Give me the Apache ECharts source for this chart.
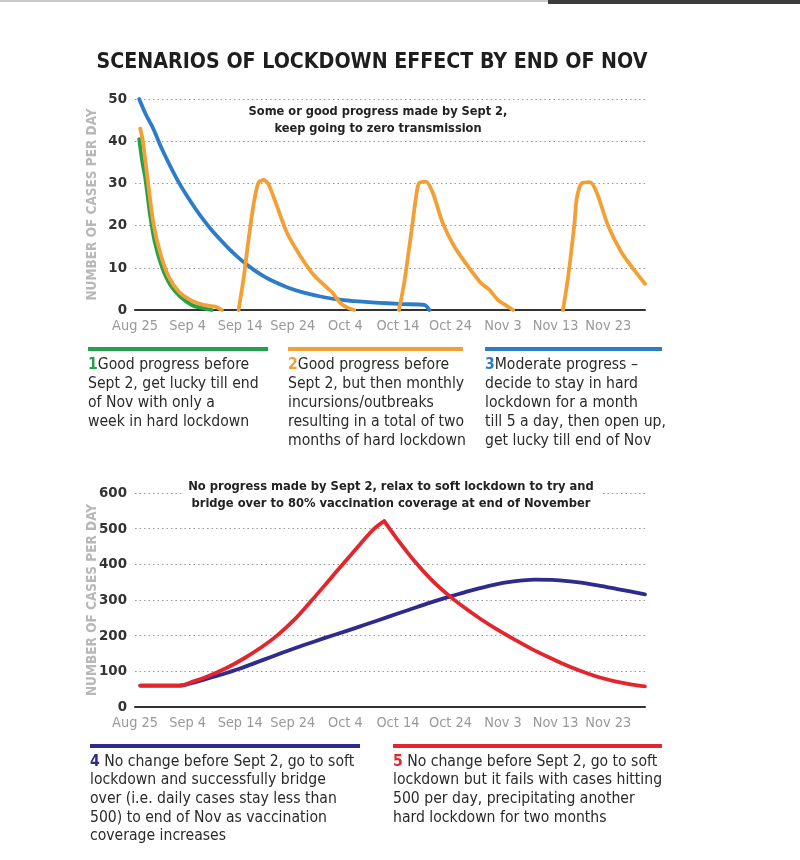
<!DOCTYPE html>
<html><head><meta charset="utf-8">
<script src="https://cdn.jsdelivr.net/npm/echarts@6/dist/echarts.min.js"></script>
<style>html,body{margin:0;padding:0;background:#fff}#c{width:800px;height:860px}</style>
</head><body><div id="c"></div>
<script>
// ---------- data ----------
const titleText = 'SCENARIOS OF LOCKDOWN EFFECT BY END OF NOV';
const xTickLabels = ['Aug 25','Sep 4','Sep 14','Sep 24','Oct 4','Oct 14','Oct 24','Nov 3','Nov 13','Nov 23'];
const topSubtitle = ['Some or good progress made by Sept 2,', 'keep going to zero transmission'];
const bottomSubtitle = ['No progress made by Sept 2, relax to soft lockdown to try and', 'bridge over to 80% vaccination coverage at end of November'];
const yAxisName = 'NUMBER OF CASES PER DAY';

// [day since Aug 25, cases per day]
const scenario1 = [[0.8,40.5],[1.4,35],[1.9,31.7],[2.4,27],[2.9,22.2],[3.8,15.9],[5.1,10.3],[6.7,6],[8.6,3.2],[10.8,1.2],[13,0.4],[14.6,0]];
const scenario2 = [[1,43],[1.5,40],[2.5,30],[3.5,20.6],[4.8,13.5],[6.4,7.9],[8.3,4.4],[10.5,2.4],[13,1.2],[15.3,0.8],[16.5,0],[18,'-'],
  [19.7,0],[20.7,7.9],[21.6,16.7],[22.6,25.4],[23.5,30.2],[24.5,30.8],[25.4,29.8],[27,24.6],[28.9,18.3],[31.5,12.7],[34,8.3],[36.6,5.2],[37.5,4.2],[38.2,3],[39.1,1.6],[40.5,0.5],[41.7,0],[45,'-'],
  [50.2,0],[51.2,6.4],[52.8,20.7],[53.4,26.3],[54,30],[55.3,30.4],[56.6,27.9],[58.5,20.7],[60.7,15.1],[63.3,10.4],[65.8,6.4],[67.4,4.8],[69,2.4],[70.9,0.8],[71.9,0],[75,'-'],
  [81.4,0],[82.4,8],[83.6,20.7],[84,26.3],[84.9,30],[86.5,30.3],[87.8,27.9],[90,19.9],[92.6,13.5],[95.1,9.2],[97,6.2]];
const scenario3 = [[0.8,50],[2,46.5],[3.5,42.9],[5,38.5],[6.7,34.1],[8.3,30.3],[9.9,27],[11.5,24],[13,21.4],[14.6,18.9],[16.2,16.7],[17.8,14.6],[19.4,12.7],[21,11],[22.6,9.5],[24.2,8.2],[25.8,7.1],[28.9,5.4],[32.1,4.1],[35.3,3.2],[38.5,2.5],[41.7,2.1],[45,1.8],[48,1.6],[51,1.4],[55,1.2],[56,0]];
const scenario4 = [[1,60],[8.5,60],[10.5,66],[13,76],[16,89],[20,108],[24,130],[28,152],[32,173],[36,193],[40,212],[44,232],[48,252],[52,272],[56,292],[60,310],[64,327],[68,342],[72,352],[76,357],[80,356],[84,350],[88,341],[92,330],[97,316]];
const scenario5 = [[1,60],[8.5,60],[11,71],[14,87],[17.5,110],[20.7,136],[23.9,166],[27,200],[30.5,248],[33.5,297],[36.6,350],[39.8,405],[42.9,458],[45.5,500],[47.4,521],[49.9,470],[53.1,410],[56.3,358],[59.5,315],[62.7,278],[65.8,246],[69,216],[72.2,189],[75.4,163],[78.6,140],[81.7,119],[84.9,100],[88.1,84],[91.3,72],[94.5,63],[97,58]];

const legendNumbers = ['1','2','3','4','5'];
const legendTexts = [
  ['Good progress before','Sept 2, get lucky till end','of Nov with only a','week in hard lockdown'],
  ['Good progress before','Sept 2, but then monthly','incursions/outbreaks','resulting in a total of two','months of hard lockdown'],
  ['Moderate progress \u2013','decide to stay in hard','lockdown for a month','till 5 a day, then open up,','get lucky till end of Nov'],
  ['No change before Sept 2, go to soft','lockdown and successfully bridge','over (i.e. daily cases stay less than','500) to end of Nov as vaccination','coverage increases'],
  ['No change before Sept 2, go to soft','lockdown but it fails with cases hitting','500 per day, precipitating another','hard lockdown for two months']
];

// ---------- styling ----------
const COLORS = ['#27a04a','#f2a035','#2d7cc7','#2f2b8e','#e3262d'];
const cv = document.createElement('canvas').getContext('2d');
function tw(font, s){ cv.font = font; return cv.measureText(s).width; }
function has(f){ const s='mmmmmmmmmlliWWWQQ0123'; return ['monospace','serif'].some(b => Math.abs(tw('72px '+b, s) - tw('72px "'+f+'", '+b, s)) > 0.5); }
const condList = ['Liberation Sans Narrow','DejaVu Sans Condensed','Roboto Condensed','Noto Sans Condensed','Open Sans Condensed','Liberation Sans'];
const COND = condList.find(has) || 'Roboto';
const FAM = '"' + COND + '", "Liberation Sans", Roboto, sans-serif';
function fit(weight, s, target, cap){ const v = 100*target/tw(weight+' 100px '+FAM, s); return Math.min(cap||99, Math.round(v*10)/10); }

const titleSize = fit('bold', titleText, 551, 32);
const topSubSize = fit('bold', topSubtitle[0], 260, 16);
const botSubSize = fit('bold', bottomSubtitle[0], 405, 16);
const legendSize = fit('normal', legendTexts[4][1], 269, 17);
const xLabSize = fit('normal', 'Aug 25', 46, 16);
const yLabSize = fit('bold', '600', 28, 17);
const nameSize = Math.min(13.5, fit('bold', yAxisName, 196, 14));

const XMAX = 97;
function xAxisCfg(i){
  return {type:'value', gridIndex:i, min:0, max:XMAX, interval:10,
    axisLine:{show:true, onZero:false, lineStyle:{color:'#333', width:2}},
    axisTick:{show:false}, splitLine:{show:false},
    axisLabel:{formatter: v => (v % 10 === 0 && xTickLabels[v/10]) || '', color:'#999', fontSize:xLabSize, fontFamily:FAM, margin:9, showMaxLabel:false}};
}
function yAxisCfg(i, max, step){
  return {type:'value', gridIndex:i, min:0, max:max, interval:step,
    axisLine:{show:false}, axisTick:{show:false},
    splitLine:{show:true, lineStyle:{type:[1.5,3], color:'#999', width:1}},
    axisLabel:{color:'#333', fontWeight:'bold', fontSize:yLabSize, fontFamily:FAM, margin:8},
    name:yAxisName, nameLocation:'middle', nameRotate:90, nameGap:36, nameMoveOverlap:false,
    nameTextStyle:{color:'#b8b8b8', fontWeight:'bold', fontSize:nameSize, fontFamily:FAM}};
}
function lineSeries(data, ci, xi, smooth){
  return {type:'line', xAxisIndex:xi, yAxisIndex:xi, data:data, symbol:'none', smooth:smooth, connectNulls:false,
    lineStyle:{color:COLORS[ci], width:3.8, cap:'round', join:'round'}, itemStyle:{color:COLORS[ci]}, z:3, clip:true};
}
// red line has a sharp peak: draw its rise and fall as two smoothed pieces
let peakIdx = 0;
scenario5.forEach((p, i) => { if (p[1] > scenario5[peakIdx][1]) peakIdx = i; });

const graphics = [
  {type:'rect', shape:{x:0,y:0,width:800,height:2}, style:{fill:'#c8c8c8'}},
  {type:'rect', shape:{x:548,y:0,width:252,height:4}, style:{fill:'#3c3c3c'}},
  {type:'text', x:372, y:62, style:{text:titleText, fontSize:titleSize, fontWeight:'bold', fontFamily:FAM, fill:'#1e1e1e', align:'center', verticalAlign:'middle'}},
  {type:'text', x:378, y:120.5, z:100, style:{text:topSubtitle.join('\n'), fontSize:topSubSize, fontWeight:'bold', fontFamily:FAM, fill:'#222', align:'center', verticalAlign:'middle', lineHeight:17}},
  {type:'text', x:391, y:495, z:100, style:{text:bottomSubtitle.join('\n'), fontSize:botSubSize, fontWeight:'bold', fontFamily:FAM, fill:'#222', align:'center', verticalAlign:'middle', lineHeight:16.5, backgroundColor:'#fff', padding:[1,6]}}
];
const legendBoxes = [
  {x:88, x2:268, barY:347, textY:355.5, lh:19},
  {x:288, x2:463, barY:347, textY:355.5, lh:19},
  {x:485, x2:662, barY:347, textY:355.5, lh:19},
  {x:90, x2:360, barY:744, textY:752.5, lh:18.6},
  {x:393, x2:662, barY:744, textY:752.5, lh:18.6}
];
legendBoxes.forEach((b, i) => {
  graphics.push({type:'rect', shape:{x:b.x, y:b.barY, width:b.x2-b.x, height:4}, style:{fill:COLORS[i]}});
  graphics.push({type:'text', x:b.x, y:b.textY, style:{
    text:'{n|' + legendNumbers[i] + '}' + (i>=3 ? ' ' : '') + legendTexts[i].join('\n'),
    fontSize:legendSize, fontFamily:FAM, fill:'#2a2a2a', lineHeight:b.lh, align:'left', verticalAlign:'top',
    rich:{n:{fontWeight:'bold', fill:COLORS[i], fontSize:legendSize, fontFamily:FAM, lineHeight:b.lh}}}});
});

const option = {
  backgroundColor:'#fff',
  animation:false,
  grid:[{left:135, width:510, top:99, height:211}, {left:135, width:510, top:493, height:214}],
  xAxis:[xAxisCfg(0), xAxisCfg(1)],
  yAxis:[yAxisCfg(0, 50, 10), yAxisCfg(1, 600, 100)],
  series:[
    lineSeries(scenario3, 2, 0, 0.3),
    lineSeries(scenario1, 0, 0, 0.3),
    lineSeries(scenario2, 1, 0, 0.25),
    lineSeries(scenario4, 3, 1, 0.3),
    lineSeries(scenario5.slice(0, peakIdx + 1), 4, 1, 0.3),
    lineSeries(scenario5.slice(peakIdx), 4, 1, 0.3)
  ],
  graphic:graphics
};
const chart = echarts.init(document.getElementById('c'));
chart.setOption(option);
</script></body></html>
